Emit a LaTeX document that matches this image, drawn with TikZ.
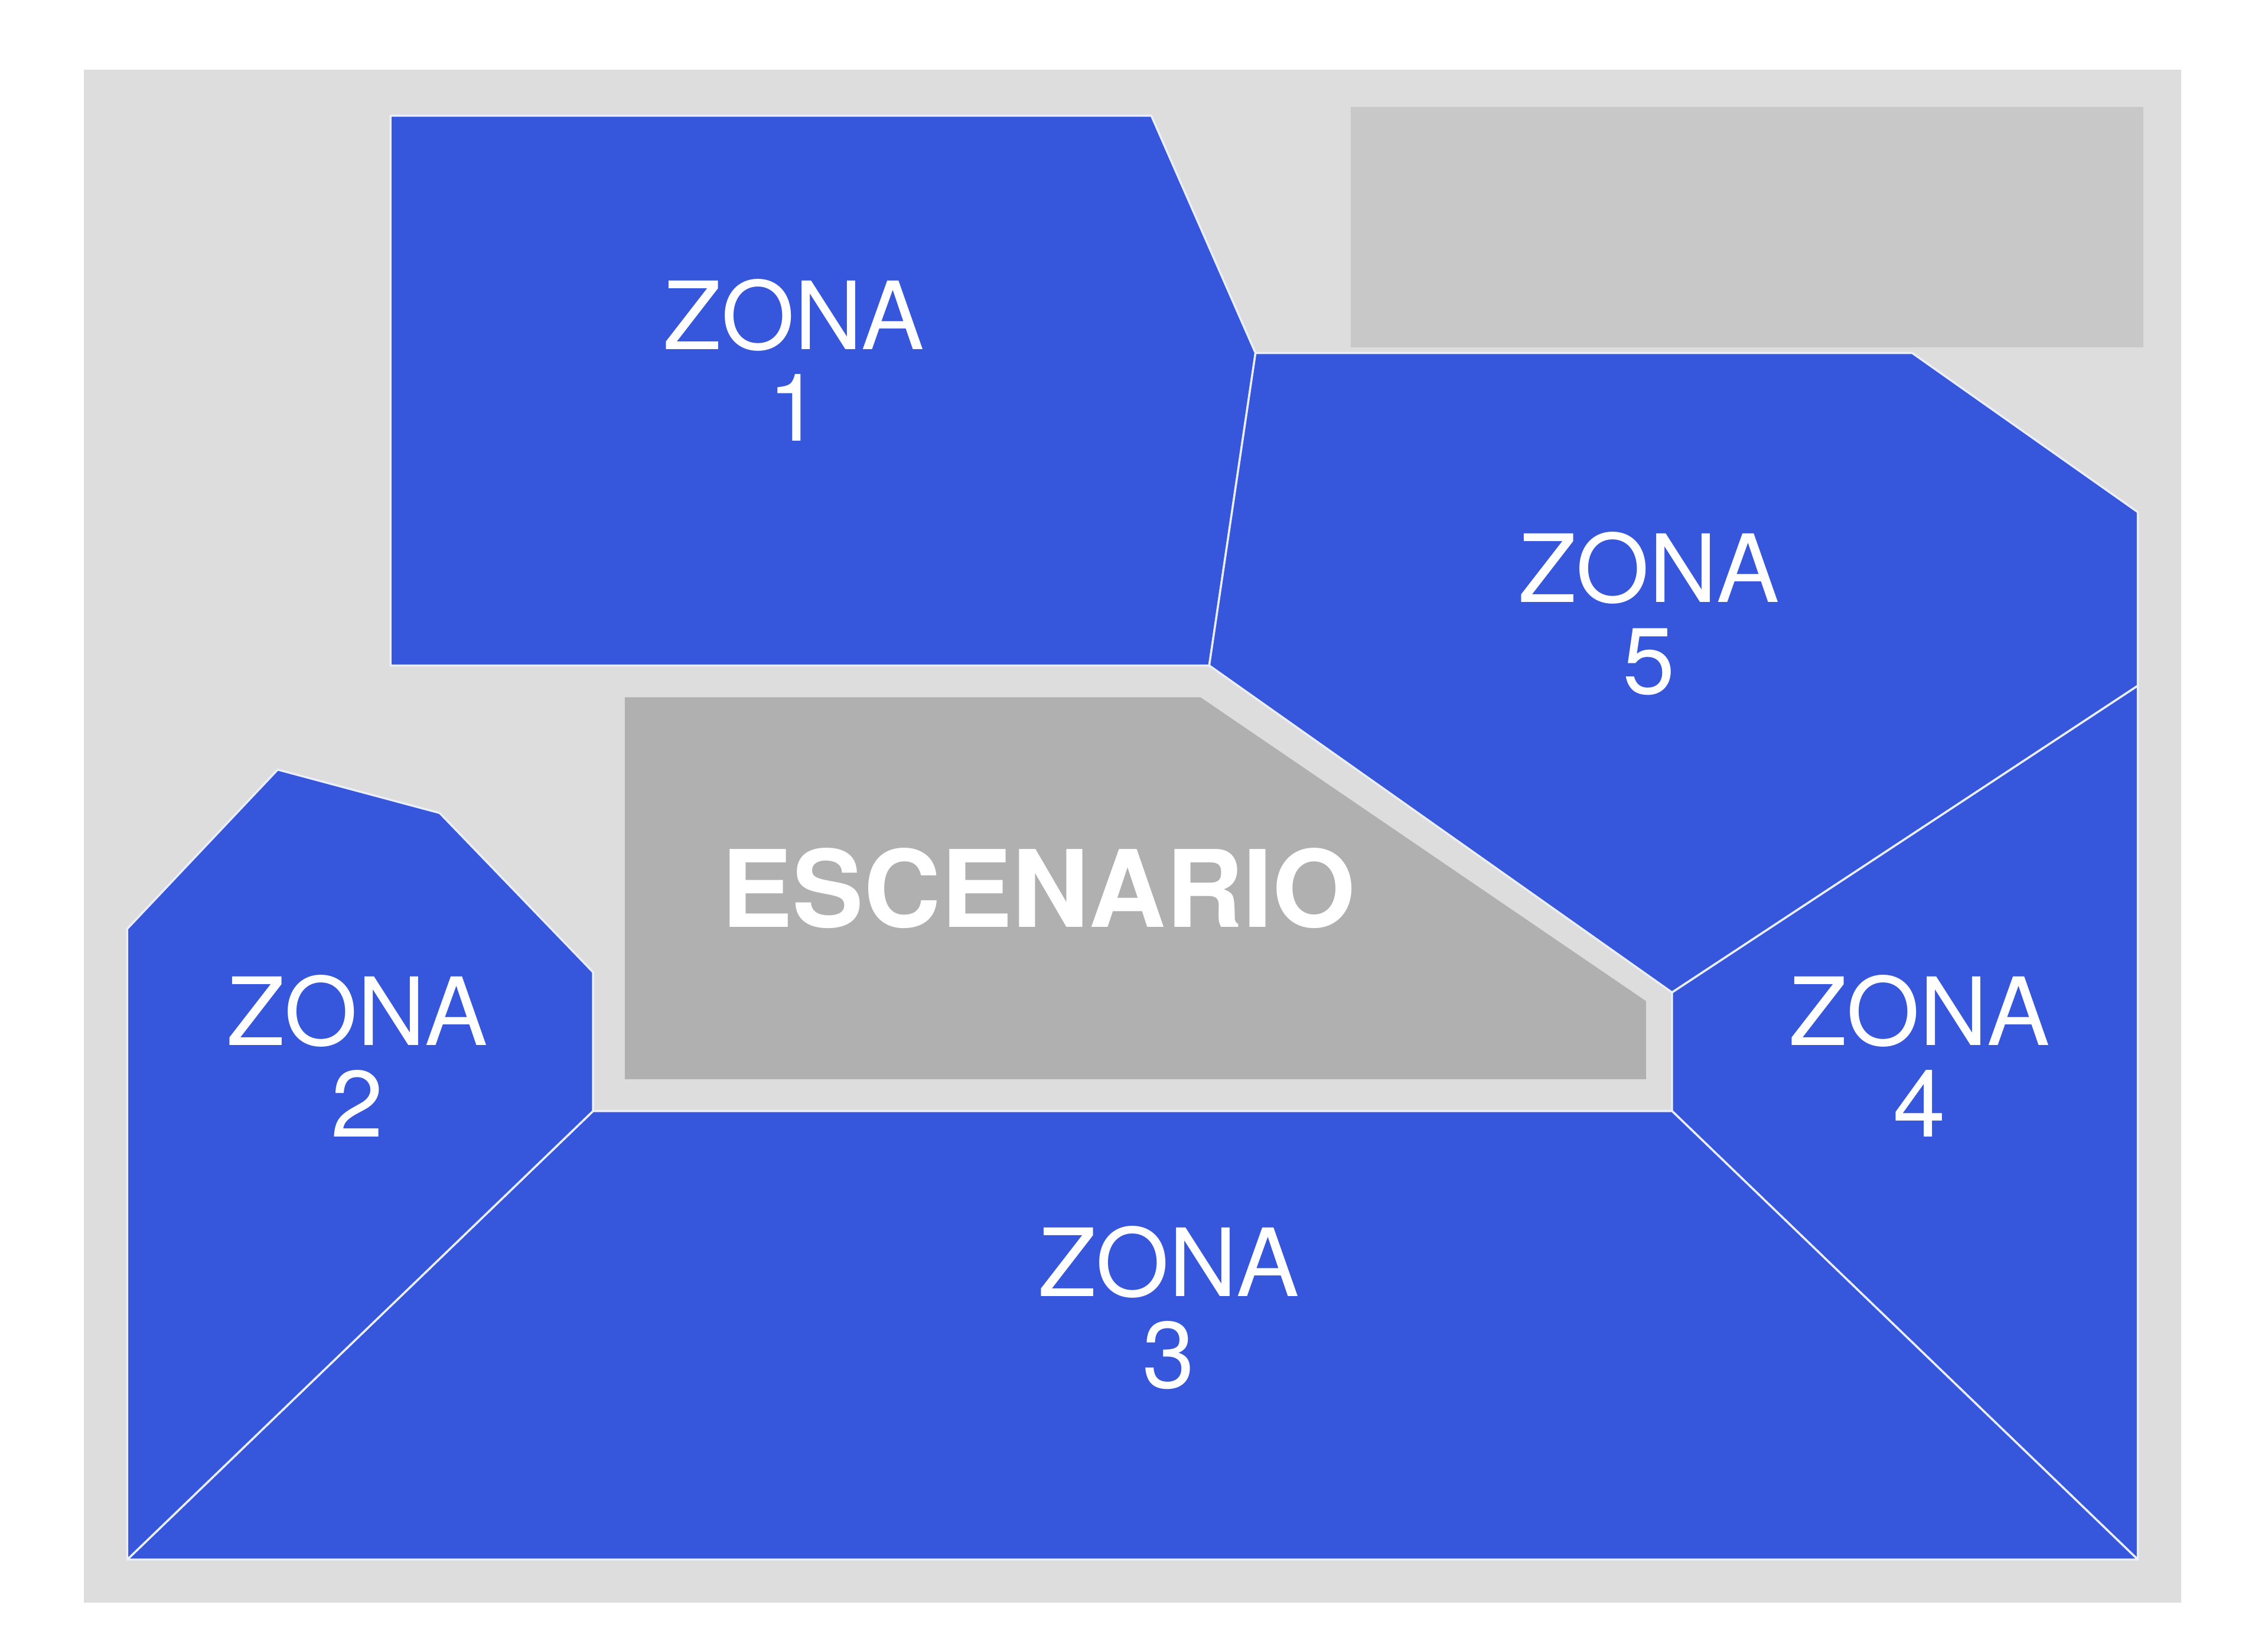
\documentclass[tikz,border=0pt]{standalone}
\usepackage{fontspec}
\setmainfont{TeX Gyre Heros}

\definecolor{zonablue}{RGB}{54,86,220}
\definecolor{fondo}{RGB}{221,221,221}
\definecolor{palco}{RGB}{200,200,200}
\definecolor{escena}{RGB}{176,176,176}

\begin{document}
\begin{tikzpicture}[x=0.01cm, y=-0.01cm,
		zona/.style={fill=zonablue, draw=white!90!zonablue, line width=0.4pt, line join=round},
		etiqueta/.style={text=white, align=center, font=\fontsize{18.5}{18}\selectfont}]
		\useasboundingbox (0,0) rectangle (1568,1136);
		
		% background
		\fill[fondo] (58,48) rectangle (1508,1108);
		\fill[palco] (934,74) rectangle (1482,240);
		
		% zones
		\filldraw[zona] (270,80) -- (796,80) -- (868,244) -- (836,460) -- (270,460) -- cycle;
		\filldraw[zona] (868,244) -- (1322,244) -- (1478,354) -- (1478,474) -- (1156,686) -- (836,460) -- cycle;
		\filldraw[zona] (1156,686) -- (1478,474) -- (1478,1078) -- (1156,768) -- cycle;
		\filldraw[zona] (410,768) -- (1156,768) -- (1478,1078) -- (88,1078) -- cycle;
		\filldraw[zona] (88,642) -- (192,532) -- (304,562) -- (410,672) -- (410,768) -- (88,1078) -- cycle;
		
		% stage
		\fill[escena] (432,482) -- (830,482) -- (1138,692) -- (1138,746) -- (432,746) -- cycle;
		
		% text
		\node[etiqueta] (z1) at (549,249) {ZONA\\1};
		\node[etiqueta] (z5) at (1140,424) {ZONA\\5};
		\node[etiqueta] (z2) at (247,730) {ZONA\\2};
		\node[etiqueta] (z4) at (1327,730) {ZONA\\4};
		\node[etiqueta] (z3) at (808,904) {ZONA\\3};
		\node[text=white, font=\fontsize{21}{24}\bfseries\selectfont] (esc) at (718,614) {ESCENARIO};
	\end{tikzpicture}
\end{document}
